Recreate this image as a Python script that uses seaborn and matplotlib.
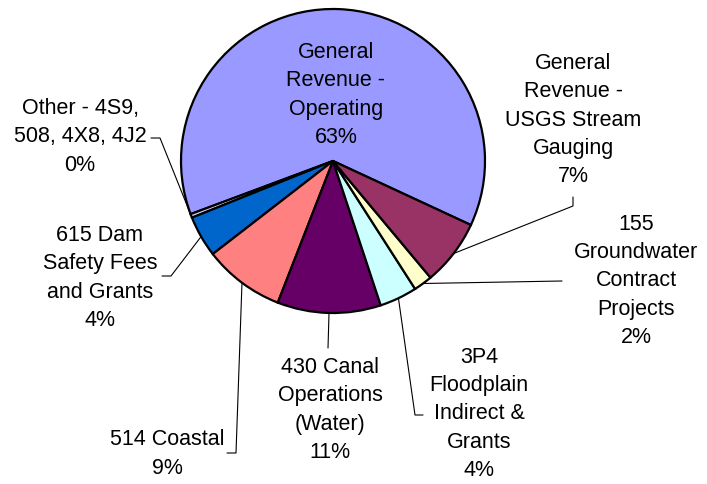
import numpy as np
import seaborn as sns
import matplotlib.pyplot as plt

# slice data, in drawing order (counter-clockwise on screen, starting at the right)
funds = ["General\nRevenue -\nOperating",
         "Other - 4S9,\n508, 4X8, 4J2",
         "615 Dam\nSafety Fees\nand Grants",
         "514 Coastal",
         "430 Canal\nOperations\n(Water)",
         "3P4\nFloodplain\nIndirect &\nGrants",
         "155\nGroundwater\nContract\nProjects",
         "General\nRevenue -\nUSGS Stream\nGauging"]
shares = [62.6, 0.4, 4.4, 8.6, 11.0, 4.0, 2.0, 7.0]
pct_labels = ["63%", "0%", "4%", "9%", "11%", "4%", "2%", "7%"]
fund_colors = ["#9999FF", "#CCCCFF", "#0066CC", "#FF8080",
               "#660066", "#CCFFFF", "#FFFFCC", "#993366"]

# layout (pixel coords, y down): label centre and leader-line path
label_pos = [(336, 95), (80, 137), (100, 278), (167, 454),
             (330, 410), (479, 414), (636, 281), (573, 120)]
leader_path = [None,
               [(160, 139), (151, 139)],
               [(171, 277), (162, 277)],
               [(236, 454), (227, 454)],
               [(328, 349)],
               [(415, 416), (423, 416)],
               [(562, 282)],
               [(573, 207), (573, 198)]]

sns.set_theme(style="white")
plt.rcParams['font.family'] = ['Liberation Sans', 'DejaVu Sans']

W, H = 707, 485
fig = plt.figure(figsize=(W / 100, H / 100), dpi=100)
ax = fig.add_axes([0, 0, 1, 1])

cx, cy, r = 333, 162, 152
wedges, _ = ax.pie(shares, colors=sns.color_palette(fund_colors),
                   startangle=24.9, counterclock=False,
                   center=(cx, cy), radius=r,
                   wedgeprops=dict(edgecolor='black', linewidth=1.6))

ax.set_xlim(0, W)
ax.set_ylim(H, 0)
ax.set_aspect('auto')
ax.axis('off')

for w, name, pct, pos, path in zip(wedges, funds, pct_labels, label_pos, leader_path):
    ax.text(pos[0], pos[1], f"{name}\n{pct}", ha='center', va='center',
            fontsize=15.5, color='black', linespacing=1.44)
    if path is None:
        continue
    mid = np.deg2rad((w.theta1 + w.theta2) / 2)
    xs = [cx + r * np.cos(mid)] + [p[0] for p in path]
    ys = [cy + r * np.sin(mid)] + [p[1] for p in path]
    ax.plot(xs, ys, color='black', lw=0.8, zorder=0.5)

fig.savefig("out.png", dpi=100, facecolor='white')
